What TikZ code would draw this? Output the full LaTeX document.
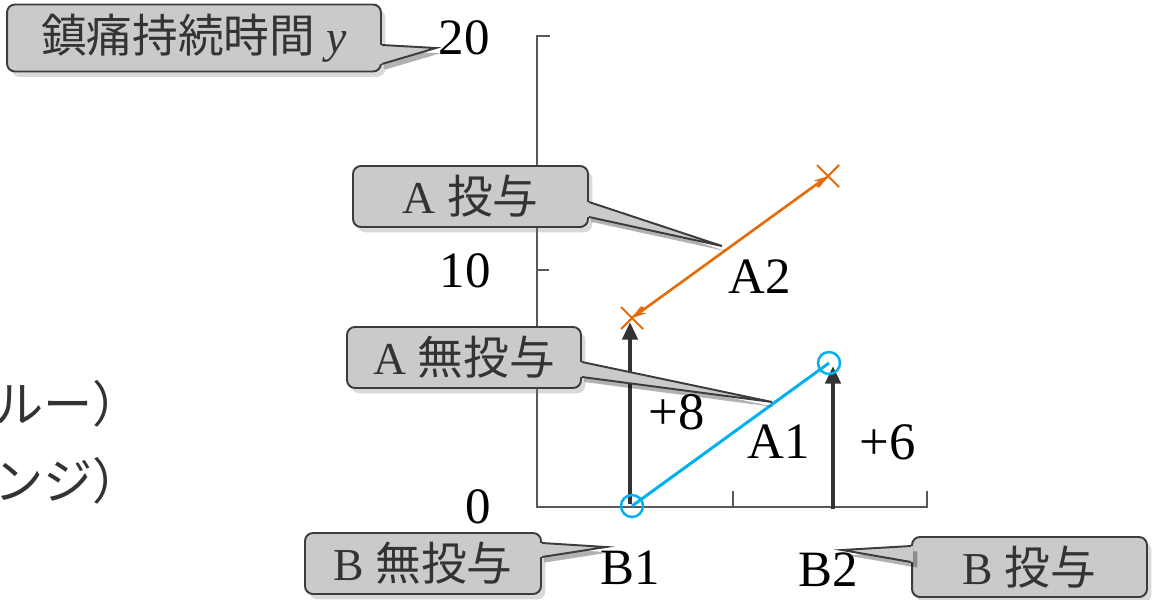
\documentclass[tikz,border=0pt]{standalone}
\usepackage{fontspec}
\setmainfont{Liberation Serif}
\newfontfamily\cjk{Noto Sans CJK JP}
\usepackage{tikz}
\usetikzlibrary{arrows.meta,shadows}
\definecolor{dforange}{RGB}{228,108,10}
\definecolor{dfcyan}{RGB}{0,176,240}
\definecolor{dfdark}{RGB}{51,51,51}
\definecolor{dfaxis}{RGB}{89,89,89}
\definecolor{dfbox}{RGB}{202,202,202}
\definecolor{dfedge}{RGB}{60,60,60}
\tikzstyle{callbox} = [rectangle, rounded corners=4.5pt, minimum width=4.7cm, minimum height=1.22cm, text centered, draw=dfedge, fill=dfbox, line width=1.1pt, text=dfdark, font=\fontsize{26}{30}\selectfont, drop shadow={shadow xshift=2.5pt, shadow yshift=-3pt, opacity=0.3}]
\tikzstyle{calltip} = [fill=dfbox, preaction={fill=black, opacity=0.3, transform canvas={xshift=2.5pt, yshift=-3pt}}]
\tikzstyle{calledge} = [draw=dfedge, line width=1.1pt, line join=miter]
\tikzstyle{bararrow} = [line width=2.8pt, -{Triangle[width=8.5pt,length=10pt]}, color=dfdark]
\tikzstyle{axisline} = [draw=dfaxis, line width=0.8pt]
\tikzstyle{numtext} = [font=\fontsize{29}{32}\selectfont, inner sep=0pt]
\tikzstyle{keytext} = [anchor=east, inner sep=0pt, text=dfdark, font=\cjk\fontsize{28}{32}\selectfont]

\begin{document}
\begin{tikzpicture}[x=0.02cm, y=-0.02cm]
\useasboundingbox (0,0) rectangle (1159,599);

% Axes
\draw[axisline] (550,36) -- (537,36) -- (537,507) -- (927,507) -- (927,491);
\draw[axisline] (537,270) -- (549,270);
\draw[axisline] (733,507) -- (733,491);
\node[numtext] (ytop) at (464,38) {20};
\node[numtext] (ymid) at (465,271) {10};
\node[numtext] (yzero) at (478,507) {0};
\node[numtext] (bone) at (630,568) {B1};
\node[numtext] (btwo) at (828,570) {B2};

% Points
\coordinate (aoneb1) at (632,506);
\coordinate (aoneb2) at (829,363);
\coordinate (atwob1) at (632,318);
\coordinate (atwob2) at (828,176);

% Arrows of B
\coordinate (b1foot) at (630,504);
\coordinate (b1top) at (630,322);
\coordinate (b2foot) at (833,509);
\coordinate (b2top) at (833,366);
\draw[bararrow] (b1foot) -- (b1top);
\draw[bararrow] (b2foot) -- (b2top);

% Lines A1 and A2
\draw[dfcyan, line width=1.7pt] (aoneb1) -- (aoneb2);
\draw[dfcyan, line width=1.4pt] (aoneb1) circle[radius=0.22cm];
\draw[dfcyan, line width=1.4pt] (aoneb2) circle[radius=0.22cm];
\draw[dforange, line width=1.5pt, {Stealth[length=8pt,width=5pt]}-{Stealth[length=8pt,width=5pt]}] (atwob1) -- (atwob2);
\draw[dforange, line width=1.2pt] (atwob1) +(-11,-11) -- +(11,11) +(-11,11) -- +(11,-11);
\draw[dforange, line width=1.2pt] (atwob2) +(-11,-11) -- +(11,11) +(-11,11) -- +(11,-11);

\node[numtext] (atwo) at (760,277) {A2};
\node[numtext] (aone) at (779,442) {A1};
\node[numtext, font=\fontsize{30}{32}\selectfont] (pluseight) at (677,412) {+8};
\node[numtext, font=\fontsize{30}{32}\selectfont] (plussix) at (888,442) {+6};

% Keys cut at the left edge
\node[keytext] (bluekey) at (142,404) {ルー）};
\node[keytext] (orangekey) at (142,481) {ンジ）};

% Callouts
\node[callbox, minimum width=7.48cm, minimum height=1.34cm] (ycall) at (194,38) {{\cjk 鎮痛持続時間} \textit{y}};
\coordinate (ycalltip) at (436,48);
\path[calltip] ([shift={(-2,7)}]ycall.east) -- ([shift={(0,7)}]ycall.east) -- (ycalltip) -- ([shift={(0,26)}]ycall.east) -- ([shift={(-2,26)}]ycall.east) -- cycle;
\draw[calledge] ([shift={(0,7)}]ycall.east) -- (ycalltip) -- ([shift={(0,26)}]ycall.east);

\node[callbox] (adose) at (470.5,196.5) {A {\cjk 投与}};
\coordinate (adosetip) at (722,246);
\path[calltip] ([shift={(-2,5.5)}]adose.east) -- ([shift={(0,5.5)}]adose.east) -- (adosetip) -- ([shift={(0,20.5)}]adose.east) -- ([shift={(-2,20.5)}]adose.east) -- cycle;
\draw[calledge] ([shift={(0,5.5)}]adose.east) -- (adosetip) -- ([shift={(0,20.5)}]adose.east);

\node[callbox, minimum width=4.68cm] (anodose) at (464,357.5) {A {\cjk 無投与}};
\coordinate (anodosetip) at (772,402);
\path[calltip] ([shift={(-2,4.5)}]anodose.east) -- ([shift={(0,4.5)}]anodose.east) -- (anodosetip) -- ([shift={(0,19.5)}]anodose.east) -- ([shift={(-2,19.5)}]anodose.east) -- cycle;
\draw[calledge] ([shift={(0,4.5)}]anodose.east) -- (anodosetip) -- ([shift={(0,19.5)}]anodose.east);

\node[callbox, minimum width=4.72cm] (bnodose) at (423,563.5) {B {\cjk 無投与}};
\coordinate (bnodosetip) at (606,547);
\path[calltip] ([shift={(-2,-20.5)}]bnodose.east) -- ([shift={(0,-20.5)}]bnodose.east) -- (bnodosetip) -- ([shift={(0,-6.5)}]bnodose.east) -- ([shift={(-2,-6.5)}]bnodose.east) -- cycle;
\draw[calledge] ([shift={(0,-20.5)}]bnodose.east) -- (bnodosetip) -- ([shift={(0,-6.5)}]bnodose.east);

\node[callbox, minimum height=1.2cm] (bdose) at (1029.5,567) {B {\cjk 投与}};
\coordinate (bdosetip) at (842,550);
\path[calltip] ([shift={(2,-21)}]bdose.west) -- ([shift={(0,-21)}]bdose.west) -- (bdosetip) -- ([shift={(0,-5)}]bdose.west) -- ([shift={(2,-5)}]bdose.west) -- cycle;
\draw[calledge] ([shift={(0,-21)}]bdose.west) -- (bdosetip) -- ([shift={(0,-5)}]bdose.west);
\end{tikzpicture}
\end{document}
